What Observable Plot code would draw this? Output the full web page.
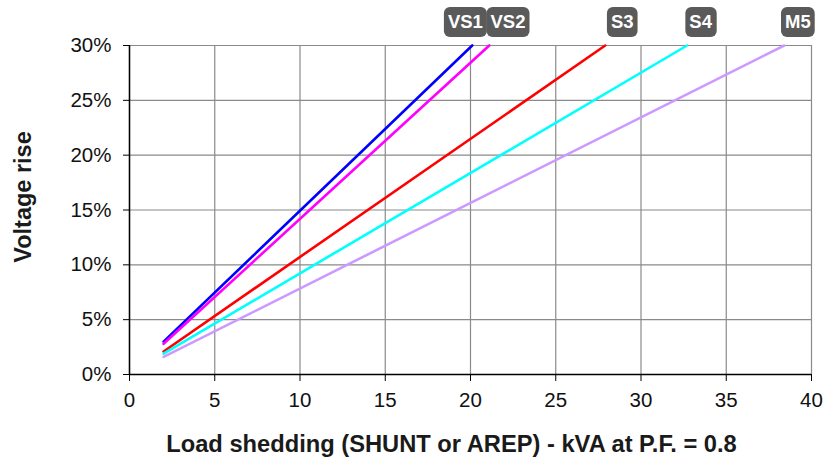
<!DOCTYPE html>
<html>
<head>
<meta charset="utf-8">
<script src="https://cdn.jsdelivr.net/npm/d3@7"></script>
<script src="https://cdn.jsdelivr.net/npm/@observablehq/plot@0.6"></script>
<style>
  html, body { margin: 0; padding: 0; background: #fff; }
  #chart svg { font-family: "Liberation Sans", Arial, sans-serif; display: block; }
</style>
</head>
<body>
<div id="chart"></div>
<script>
// ---- data ----
const series = ["VS1", "VS2", "S3", "S4", "M5"];
const colors = ["#0000ff", "#ff00ff", "#ff0000", "#00ffff", "#cc99ff"];
const startKVA = [2, 2, 2, 2, 2];
const startRise = [3.0, 2.8, 2.1, 1.9, 1.6];
const endKVA = [20.1, 21.1, 27.9, 32.7, 38.4];
const endRise = [30, 30, 30, 30, 30];
const labelKVA = [19.7, 22.2, 28.9, 33.5, 39.2];
const xTicks = [0, 5, 10, 15, 20, 25, 30, 35, 40];
const yTicks = [0, 5, 10, 15, 20, 25, 30];
const xTitle = "Load shedding (SHUNT or AREP) - kVA at P.F. = 0.8";
const yTitle = "Voltage rise";

const rows = [];
series.forEach((s, i) => {
  rows.push({series: s, kva: startKVA[i], rise: startRise[i]});
  rows.push({series: s, kva: endKVA[i], rise: endRise[i]});
});
const labels = series.map((s, i) => ({series: s, kva: labelKVA[i], rise: endRise[i]}));

const chart = Plot.plot({
  width: 827,
  height: 461,
  marginLeft: 129,
  marginRight: 16,
  marginTop: 45,
  marginBottom: 87,
  style: {fontSize: "20px", color: "#111", background: "#fff", overflow: "visible"},
  x: {domain: [0, 40]},
  y: {domain: [0, 30]},
  color: {domain: series, range: colors},
  marks: [
    Plot.gridX(xTicks, {stroke: "#8a8a8a", strokeOpacity: 1, strokeWidth: 1.2}),
    Plot.gridY(yTicks, {stroke: "#8a8a8a", strokeOpacity: 1, strokeWidth: 1.2}),
    Plot.line(rows, {x: "kva", y: "rise", z: "series", stroke: "series", strokeWidth: 2.6}),
    Plot.ruleX([0], {stroke: "#000", strokeWidth: 1.5}),
    Plot.ruleY([0], {stroke: "#000", strokeWidth: 1.5}),
    Plot.axisX(xTicks, {tickSize: 7, tickPadding: 11, label: null, stroke: "#000", fontSize: 20.5}),
    Plot.axisY(yTicks, {tickSize: 6, tickPadding: 12, label: null, stroke: "#000", fontSize: 20.5,
      tickFormat: d => d + "%"}),
    Plot.text(labels, {x: "kva", y: "rise", text: "series", dy: -23, fill: "#fff",
      fontWeight: "bold", fontSize: 18.5, lineAnchor: "middle", textAnchor: "middle"}),
    Plot.text([xTitle], {frameAnchor: "bottom", textAnchor: "middle", lineAnchor: "middle",
      dx: -19, dy: 70, fontWeight: "bold", fontSize: 23.7, fill: "#1a1a1a"}),
    Plot.text([yTitle], {frameAnchor: "left", textAnchor: "middle", lineAnchor: "middle",
      rotate: -90, dx: -106, dy: -13, fontWeight: "bold", fontSize: 23.5, fill: "#1a1a1a"})
  ]
});

document.getElementById("chart").appendChild(chart);

// rounded dark boxes behind series labels
const yScale = chart.scale("y");
const boxCY = yScale.apply(30) - 23;
chart.querySelectorAll("text").forEach(t => {
  if (!series.includes(t.textContent.trim())) return;
  const bb = t.getBBox();
  let cx = bb.x + bb.width / 2;
  const r = document.createElementNS("http://www.w3.org/2000/svg", "rect");
  const w = bb.width + 8;
  // account for any translate on the text or its group
  const m = t.getCTM();
  const gx = m ? m.e : 0;
  r.setAttribute("x", gx + cx - w / 2);
  r.setAttribute("y", boxCY - 15);
  r.setAttribute("width", w);
  r.setAttribute("height", 30);
  r.setAttribute("rx", 6);
  r.setAttribute("fill", "#5a5a5a");
  chart.insertBefore(r, t.parentNode);
});
</script>
</body>
</html>
